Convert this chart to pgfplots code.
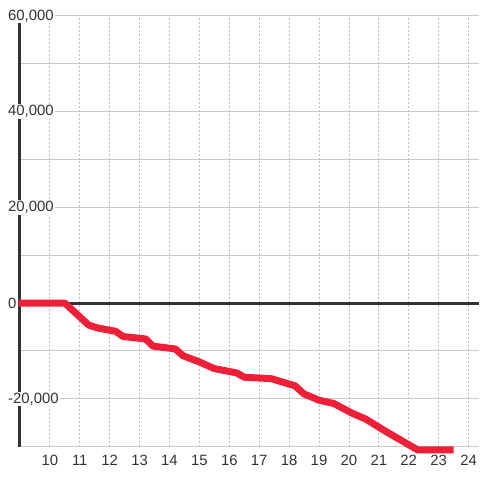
\documentclass[border=0pt]{standalone}
\usepackage{pgfplots}
\pgfplotsset{compat=1.18}
\usepackage{fontspec}
\setmainfont{Liberation Sans}
\definecolor{cdark}{HTML}{333333}
\definecolor{cgrid}{HTML}{C8C8C8}
\definecolor{cdot}{HTML}{BBBBBB}
\definecolor{cred}{HTML}{EE2038}
\begin{document}
\begin{tikzpicture}
\path (0,0) rectangle (480bp,480bp);
\begin{axis}[
  set layers=standard,
  at={(20bp,32bp)}, anchor=south west,
  scale only axis, width=460bp, height=432bp,
  xmin=9, xmax=24.3333, ymin=-30000, ymax=60000,
  axis lines=left,
  x axis line style={draw=none},
  y axis line style={draw=cdark, line width=3bp, -},
  major tick length=0pt, minor tick length=0pt,
  xtick={10,...,24}, minor x tick num=0,
  ytick={-30000,-20000,...,60000},
  yticklabels={,-20{,}000,,0,,20{,}000,,40{,}000,,60{,}000},
  xmajorgrids, ymajorgrids, xminorgrids=false,
  x grid style={draw=cdot, line width=0.8bp, dash pattern=on 2bp off 2bp},
  y grid style={draw=cgrid, line width=1bp},
  /pgf/number format/assume math mode=true,
  scaled y ticks=false,
  ticklabel style={font=\fontsize{15}{18}\selectfont, text=cdark},
  yticklabel style={anchor=west, xshift=-13bp, fill=white, inner sep=1bp},
  xticklabel style={anchor=north, inner sep=0pt, yshift=-8.5bp},
  clip=false,
]
\addplot[cdark, line width=3bp] coordinates {(9,0) (24.3333,0)};
\addplot[cred, line width=7bp, line join=round, line cap=butt] coordinates {
(8.95,0) (10.5,0) (11.3,-4600) (11.6,-5200) (12.2,-5900) (12.45,-7000)
(13.2,-7500) (13.45,-9000) (14.2,-9600) (14.45,-11000) (15,-12300)
(15.5,-13700) (16.25,-14600) (16.5,-15500) (17.4,-15800) (18.2,-17300)
(18.5,-19000) (19,-20300) (19.5,-21000) (20.1,-23000) (20.55,-24200)
(21.2,-26700) (22.3,-30700) (23.5,-30700)
};
\end{axis}
\end{tikzpicture}
\end{document}
